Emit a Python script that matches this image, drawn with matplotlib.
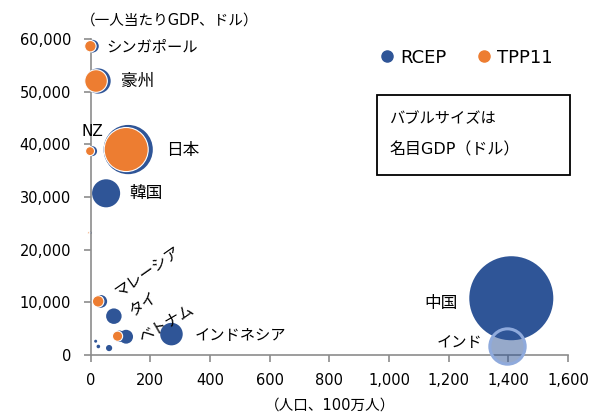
import matplotlib; matplotlib.use("Agg")
import matplotlib.pyplot as plt, numpy as np
from matplotlib.transforms import offset_copy

plt.rcParams.update({"font.family": ["DejaVu Sans", "Noto Sans CJK JP"], "font.size": 10.5,
                     "axes.edgecolor": "#8C8C8C", "xtick.color": "#8C8C8C", "ytick.color": "#8C8C8C",
                     "xtick.labelcolor": "black", "ytick.labelcolor": "black"})
BLUE = "#2F5597"; ORANGE = "#ED7D31"

# RCEP members: population (mn), GDP per capita (USD), nominal GDP (bn USD)
rcep_names = ["中国", "日本", "韓国", "豪州", "インドネシア", "タイ", "フィリピン", "シンガポール",
              "マレーシア", "ベトナム", "NZ", "ミャンマー", "カンボジア", "ラオス", "ブルネイ"]
rcep_pop = [1410, 126, 52, 25, 271, 78, 119, 6, 34, 97, 4.9, 62, 26, 17, 0.4]
rcep_gdppc = [10800, 39000, 30700, 52000, 4000, 7400, 3500, 58600, 10200, 3600, 38700, 1350, 1650, 2650, 23200]
rcep_gdp = [14700, 5050, 1640, 1330, 1060, 500, 400, 340, 340, 270, 210, 80, 27, 19, 12]

# TPP11 members shown
tpp_names = ["日本", "豪州", "シンガポール", "マレーシア", "ベトナム", "NZ", "ブルネイ"]
tpp_pop = [126, 25, 6, 32, 97, 4.9, 0.4]
tpp_gdppc = [39000, 52000, 58600, 10200, 3600, 38700, 23200]
tpp_gdp = [5050, 1330, 340, 340, 270, 210, 12]

# India (withdrew from RCEP)
ind_pop = [1394]; ind_gdppc = [1800]; ind_gdp = [2600]

def sz(g): return np.array(g) / 14700 * 3660

fig = plt.figure(figsize=(5.96, 4.13), dpi=100)
ax = fig.add_axes([0.152, 0.140, 0.801, 0.766])
ax.scatter(rcep_pop, rcep_gdppc, s=sz(rcep_gdp), color=BLUE, lw=0, zorder=2, clip_on=False, label="RCEP")
tr = offset_copy(ax.transData, fig=fig, x=-2, y=0, units="dots")
ax.scatter(tpp_pop, tpp_gdppc, s=sz(tpp_gdp) * 0.8, color=ORANGE, edgecolor="white", lw=0.8,
           zorder=3, clip_on=False, transform=tr, label="TPP11")
ax.scatter(ind_pop, ind_gdppc, s=sz(ind_gdp), facecolor=(47/255, 85/255, 151/255, 0.5),
           edgecolor="#8FAADC", lw=2.2, zorder=4, clip_on=False)

ax.set_xlim(0, 1600); ax.set_ylim(0, 60000)
ax.set_xticks(np.arange(0, 1601, 200)); ax.set_yticks(np.arange(0, 60001, 10000))
ax.xaxis.set_major_formatter(plt.FuncFormatter(lambda v, p: f"{v:,.0f}"))
ax.yaxis.set_major_formatter(plt.FuncFormatter(lambda v, p: f"{v:,.0f}"))
ax.tick_params(length=5, width=1.2, labelsize=10.5)
ax.tick_params(axis="y", pad=9)
ax.tick_params(axis="x", pad=8)
for s in ("top", "right"): ax.spines[s].set_visible(False)
for s in ("left", "bottom"): ax.spines[s].set_linewidth(1.2)

# labels
def lab(t, x, y, dx, dy, rot=0, ha="left", fs=11):
    ax.annotate(t, (x, y), xytext=(dx, dy), textcoords="offset pixels", ha=ha, va="center",
                rotation=rot, fontsize=fs, rotation_mode="anchor")
lab("シンガポール", 6, 58600, 14, -1)
lab("豪州", 25, 52000, 23, 0, fs=12)
lab("NZ", 4.9, 38700, 0, 20, ha="center")
lab("日本", 126, 39000, 38, 0, fs=12)
lab("韓国", 52, 30700, 23, 0, fs=12)
lab("マレーシア", 32, 10200, 16, 8, rot=35)
lab("タイ", 78, 7400, 17, 4, rot=34)
lab("ベトナム", 97, 3600, 20, -2, rot=30)
lab("インドネシア", 271, 4000, 23, -1)
lab("中国", 1410, 10800, -87, -5, fs=12)
lab("インド", 1394, 1800, -70, 3)

fig.text(0.136, 0.952, "（一人当たりGDP、ドル）", fontsize=10.5, ha="left", va="center")
fig.text(0.553, 0.018, "（人口、100万人）", fontsize=10.5, ha="center", va="center")

leg = ax.legend(handles=[plt.Line2D([], [], marker="o", ls="", color=BLUE, ms=8, label="RCEP"),
                         plt.Line2D([], [], marker="o", ls="", color=ORANGE, ms=8, label="TPP11")],
                loc="center left", bbox_to_anchor=(0.565, 0.94), ncol=2, frameon=False, fontsize=13,
                handletextpad=0.1, columnspacing=1.5, handlelength=1.2)
fig.text(0.653, 0.714, "バブルサイズは", fontsize=11, va="center")
fig.text(0.653, 0.637, "名目GDP（ドル）", fontsize=11.5, va="center")
fig.patches.append(plt.Rectangle((0.633, 0.577), 0.324, 0.193, transform=fig.transFigure,
                                 fill=False, edgecolor="black", lw=1.3))
fig.savefig("out.png", dpi=100)
